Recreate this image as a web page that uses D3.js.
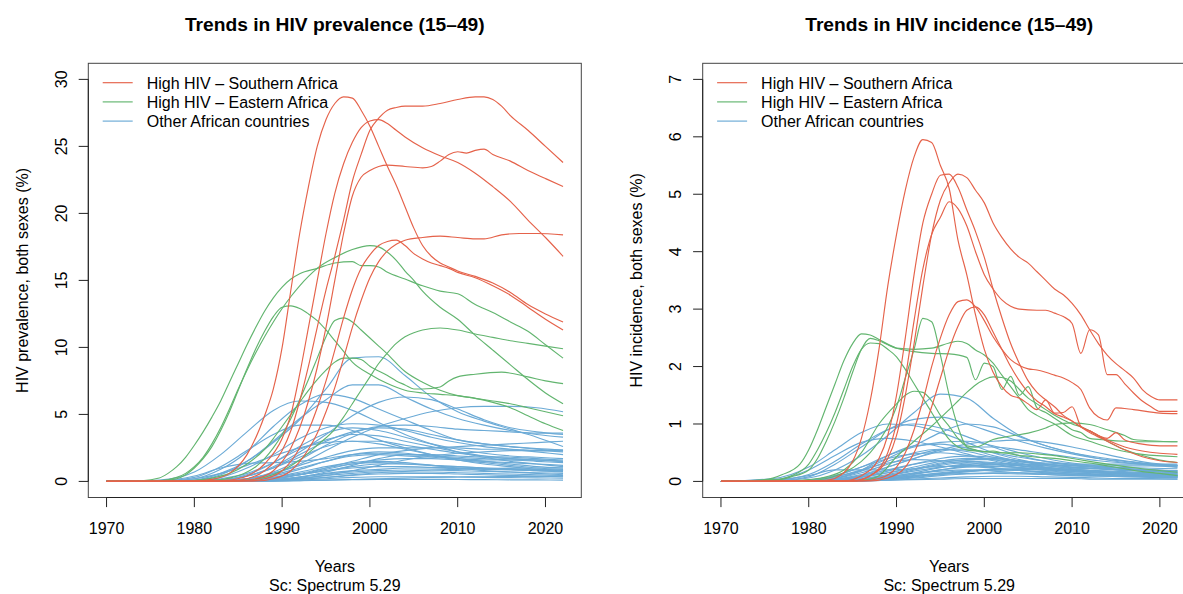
<!DOCTYPE html>
<html>
<head>
<meta charset="utf-8">
<script src="https://cdn.jsdelivr.net/npm/d3@7"></script>
<style>
  body { margin: 0; background: #fff; }
  svg text { font-family: "Liberation Sans", Arial, Helvetica, sans-serif; fill: #000; }
</style>
</head>
<body>
<svg id="chart" width="1183" height="594"></svg>
<script>
// ---- tick labels ----
const xTicks = [1970, 1980, 1990, 2000, 2010, 2020];
const prevTicks = [0, 5, 10, 15, 20, 25, 30];
const incTicks = [0, 1, 2, 3, 4, 5, 6, 7];

// ---- legend ----
const groupNames = ["High HIV \u2013 Southern Africa", "High HIV \u2013 Eastern Africa", "Other African countries"];

// ---- prevalence (%), high HIV Southern Africa: [year, value] ----
const prevSouthern = [
  [[1970,0],[1980,0.02],[1982,0.15],[1984,0.6],[1986,2.0],[1988,4.9],[1989,6.9],[1990,10.0],[1991,14.3],[1992,18.5],[1993,22.0],[1994,25.0],[1995,27.0],[1996,28.2],[1997,28.7],[1998,28.6],[1999,27.7],[2000,26.5],[2001,25.0],[2002,23.5],[2003,22.1],[2004,20.5],[2005,18.9],[2006,17.6],[2007,16.8],[2008,16.3],[2009,16.0],[2010,15.7],[2012,15.3],[2014,14.8],[2016,14.1],[2018,13.2],[2020,12.5],[2022,11.9]],
  [[1970,0],[1982,0.02],[1984,0.1],[1986,0.4],[1988,1.3],[1990,3.2],[1991,5.0],[1992,8.0],[1993,11.5],[1994,15.0],[1995,18.5],[1996,21.5],[1997,23.7],[1998,25.3],[1999,26.4],[2000,26.9],[2001,27.0],[2002,26.7],[2003,26.2],[2004,25.7],[2006,24.9],[2008,24.3],[2010,23.8],[2012,23.0],[2014,22.0],[2016,20.9],[2018,19.5],[2020,18.2],[2022,16.8]],
  [[1970,0],[1984,0.03],[1986,0.2],[1988,0.8],[1990,2.3],[1991,3.8],[1992,6.0],[1993,8.6],[1994,11.5],[1995,14.3],[1996,16.8],[1997,19.5],[1998,22.4],[1999,24.4],[2000,26.2],[2001,27.1],[2002,27.7],[2003,27.9],[2004,28.0],[2006,28.0],[2008,28.2],[2010,28.5],[2012,28.7],[2013,28.7],[2014,28.5],[2015,28.0],[2016,27.3],[2018,26.2],[2020,25.0],[2022,23.8]],
  [[1970,0],[1985,0.03],[1987,0.2],[1989,0.8],[1991,2.5],[1992,4.0],[1993,6.0],[1994,8.5],[1995,11.5],[1996,15.0],[1997,18.5],[1998,21.3],[1999,22.7],[2000,23.2],[2001,23.5],[2002,23.6],[2004,23.5],[2006,23.4],[2007,23.5],[2008,23.9],[2009,24.4],[2010,24.6],[2011,24.5],[2012,24.7],[2013,24.8],[2014,24.4],[2016,23.9],[2018,23.2],[2020,22.6],[2022,22.0]],
  [[1970,0],[1986,0.03],[1988,0.2],[1990,0.8],[1992,2.5],[1993,3.8],[1994,5.5],[1995,7.5],[1996,9.8],[1997,12.2],[1998,14.3],[1999,15.9],[2000,16.9],[2001,17.6],[2002,17.9],[2003,18.0],[2004,17.6],[2005,17.0],[2006,16.6],[2007,16.3],[2008,16.1],[2009,15.9],[2010,15.6],[2012,15.2],[2014,14.6],[2016,13.9],[2018,13.0],[2020,12.1],[2022,11.3]],
  [[1970,0],[1987,0.03],[1989,0.2],[1991,0.8],[1993,2.4],[1994,3.6],[1995,5.2],[1996,7.0],[1997,9.2],[1998,11.5],[1999,13.5],[2000,15.2],[2001,16.4],[2002,17.2],[2003,17.7],[2004,18.0],[2006,18.2],[2008,18.3],[2010,18.2],[2012,18.1],[2013,18.1],[2015,18.4],[2017,18.5],[2019,18.5],[2022,18.4]]
];

// ---- prevalence (%), high HIV Eastern Africa ----
const prevEastern = [
  [[1970,0],[1974,0.05],[1976,0.25],[1977,0.6],[1978,1.1],[1979,1.8],[1980,2.7],[1981,3.7],[1982,4.8],[1983,6.0],[1984,7.4],[1985,8.8],[1986,10.2],[1987,11.5],[1988,12.7],[1989,13.7],[1990,14.5],[1991,15.1],[1992,15.5],[1994,15.9],[1996,16.3],[1998,16.4],[1999,16.1],[2000,16.1],[2001,16.0],[2002,15.6],[2004,15.1],[2006,14.6],[2008,14.2],[2010,14.0],[2012,13.2],[2014,12.6],[2016,11.9],[2018,11.2],[2020,10.2],[2022,9.2]],
  [[1970,0],[1976,0.05],[1978,0.3],[1979,0.6],[1980,1.1],[1981,1.8],[1982,2.8],[1983,4.0],[1984,5.4],[1985,6.9],[1986,8.3],[1987,9.6],[1988,10.8],[1989,11.9],[1990,12.9],[1991,13.8],[1992,14.6],[1993,15.3],[1994,15.9],[1996,16.7],[1998,17.3],[2000,17.6],[2001,17.5],[2002,17.1],[2003,16.5],[2004,15.7],[2005,15.0],[2006,14.2],[2008,13.0],[2010,12.1],[2012,10.9],[2014,9.8],[2016,8.7],[2018,7.6],[2020,6.6],[2022,5.8]],
  [[1970,0],[1976,0.03],[1978,0.2],[1979,0.5],[1980,1.0],[1981,1.7],[1982,2.6],[1983,3.8],[1984,5.2],[1985,6.8],[1986,8.4],[1987,9.9],[1988,11.2],[1989,12.3],[1990,13.0],[1991,13.1],[1992,12.9],[1993,12.5],[1994,12.0],[1995,11.3],[1996,10.5],[1997,9.7],[1998,8.9],[2000,8.0],[2002,7.3],[2004,6.8],[2006,6.6],[2008,6.5],[2010,6.4],[2012,6.2],[2014,6.0],[2016,5.8],[2018,5.5],[2020,5.2],[2022,4.9]],
  [[1970,0],[1980,0.02],[1982,0.08],[1984,0.25],[1986,0.7],[1987,1.1],[1988,1.7],[1989,2.5],[1990,3.5],[1991,4.7],[1992,6.1],[1993,7.6],[1994,9.2],[1995,10.8],[1996,12.0],[1997,12.2],[1998,11.9],[1999,11.3],[2000,10.7],[2001,10.1],[2002,9.5],[2004,8.2],[2006,7.4],[2008,6.8],[2010,6.4],[2012,6.2],[2014,5.9],[2016,5.5],[2018,4.9],[2020,4.3],[2022,3.8]],
  [[1970,0],[1978,0.02],[1980,0.08],[1982,0.25],[1984,0.6],[1986,1.3],[1988,2.4],[1989,3.2],[1990,4.1],[1991,5.0],[1992,5.9],[1993,6.8],[1994,7.6],[1995,8.3],[1996,8.9],[1997,9.2],[1998,9.2],[1999,9.1],[2000,8.6],[2002,7.9],[2003,7.5],[2004,7.2],[2005,6.9],[2006,6.9],[2008,7.05],[2009,7.5],[2010,7.8],[2012,8.0],[2015,8.15],[2018,7.8],[2020,7.5],[2022,7.3]],
  [[1970,0],[1984,0.02],[1986,0.1],[1988,0.3],[1990,0.8],[1992,1.6],[1994,2.7],[1996,3.9],[1997,4.8],[1998,5.8],[1999,6.8],[2000,7.8],[2001,8.8],[2002,9.6],[2003,10.3],[2004,10.8],[2005,11.1],[2006,11.3],[2008,11.45],[2010,11.3],[2012,11.0],[2014,10.75],[2016,10.5],[2018,10.3],[2020,10.1],[2022,9.9]]
];

// ---- other African countries: values on a shared year grid ----
const otherYears = [1970,1976,1980,1983,1986,1989,1992,1995,1998,2001,2004,2007,2010,2013,2016,2019,2022];

const prevOther = [
  [0,0.01,0.1,0.6,1.5,2.9,4.6,6.9,9.2,9.3,7.9,6.3,5.2,4.5,3.9,3.3,2.6],
  [0,0.01,0.08,0.5,1.5,3.0,4.7,6.1,7.2,7.2,6.3,5.4,4.7,4.2,3.8,3.5,3.3],
  [0,0.02,0.2,0.9,2.2,4.1,5.7,6.5,6.2,5.4,4.6,3.8,3.1,2.8,2.6,2.45,2.35],
  [0,0.1,0.7,2.0,3.7,5.3,6.0,5.9,5.3,4.4,3.5,2.8,2.2,1.8,1.5,1.3,1.1],
  [0,0.03,0.3,1.1,2.3,3.5,4.2,4.2,3.8,3.1,2.5,2.0,1.6,1.4,1.2,1.0,0.9],
  [0,0,0.02,0.1,0.4,1.1,2.2,3.5,4.9,5.9,6.3,6.1,5.4,4.6,4.0,3.7,3.5],
  [0,0,0,0.05,0.2,0.6,1.3,2.3,3.3,4.1,4.7,5.2,5.5,5.6,5.6,5.5,5.2],
  [0,0,0.05,0.3,1.0,2.0,3.2,4.0,4.3,4.2,3.8,3.3,2.9,2.6,2.4,2.2,2.0],
  [0,0,0.01,0.05,0.2,0.7,1.6,2.7,3.6,4.1,4.2,4.1,3.9,3.8,3.7,3.6,3.6],
  [0,0,0.02,0.1,0.4,1.0,2.0,3.0,3.7,4.0,3.9,3.5,3.1,2.8,2.6,2.4,2.3],
  [0,0,0.03,0.2,0.6,1.4,2.4,3.1,3.5,3.4,3.0,2.6,2.2,1.9,1.7,1.6,1.5],
  [0,0,0,0.01,0.05,0.2,0.5,1.0,1.5,2.0,2.3,2.5,2.6,2.7,2.8,2.9,3.0],
  [0,0,0.01,0.05,0.2,0.6,1.2,1.8,2.3,2.5,2.5,2.5,2.5,2.4,2.4,2.3,2.3],
  [0,0.05,0.4,1.0,1.35,1.4,1.5,1.7,2.0,2.1,2.0,1.9,1.8,1.7,1.6,1.6,1.5],
  [0,0,0.01,0.05,0.2,0.5,1.0,1.5,1.9,2.0,1.9,1.8,1.7,1.6,1.6,1.5,1.4],
  [0,0,0,0.02,0.1,0.3,0.7,1.1,1.4,1.6,1.7,1.7,1.6,1.5,1.4,1.3,1.2],
  [0,0,0,0.02,0.1,0.3,0.6,1.0,1.3,1.4,1.3,1.2,1.1,1.0,0.95,0.9,0.85],
  [0,0,0,0.01,0.05,0.2,0.5,0.8,1.1,1.3,1.3,1.2,1.1,1.0,0.9,0.8,0.75],
  [0,0,0,0.01,0.05,0.15,0.35,0.6,0.8,0.9,1.0,1.0,0.95,0.9,0.85,0.8,0.7],
  [0,0,0,0.01,0.03,0.1,0.25,0.45,0.6,0.7,0.7,0.7,0.65,0.6,0.55,0.5,0.45],
  [0,0,0,0,0.02,0.07,0.15,0.3,0.45,0.55,0.6,0.6,0.55,0.5,0.45,0.4,0.35],
  [0,0,0,0,0.01,0.04,0.1,0.2,0.3,0.35,0.35,0.35,0.33,0.3,0.28,0.26,0.25],
  [0,0,0,0,0.01,0.02,0.05,0.1,0.13,0.15,0.15,0.15,0.14,0.13,0.12,0.11,0.1],
  [0,0,0,0.01,0.1,0.4,0.9,1.5,2.0,2.2,2.1,1.9,1.7,1.5,1.3,1.1,1.0],
  [0,0,0.01,0.1,0.4,1.0,1.8,2.6,3.0,3.0,2.7,2.4,2.1,1.9,1.8,1.7,1.6],
  [0,0,0,0,0.03,0.1,0.3,0.7,1.2,1.7,2.0,2.0,1.9,1.8,1.7,1.6,1.5],
  [0,0,0,0.02,0.08,0.25,0.5,0.8,1.0,1.1,1.1,1.05,1.0,0.95,0.9,0.85,0.8],
  [0,0,0,0.01,0.05,0.2,0.5,0.9,1.3,1.5,1.4,1.2,1.0,0.8,0.7,0.6,0.5],
  [0,0.02,0.2,0.6,1.2,1.9,2.5,2.9,3.0,2.8,2.4,2.0,1.6,1.3,1.1,0.9,0.8],
  [0,0,0,0,0.02,0.08,0.2,0.45,0.8,1.2,1.6,1.9,2.1,2.2,2.3,2.3,2.2],
  [0,0,0,0,0.01,0.05,0.15,0.3,0.5,0.65,0.75,0.85,0.9,0.95,1.0,1.0,1.0],
  [0,0,0.01,0.1,0.5,1.4,2.6,3.6,4.0,3.8,3.3,2.8,2.4,2.1,1.9,1.8,1.7],
  [0,0,0,0,0.01,0.03,0.06,0.1,0.14,0.2,0.25,0.3,0.33,0.35,0.37,0.38,0.4],
  [0,0,0,0.01,0.04,0.12,0.3,0.55,0.7,0.8,0.85,0.85,0.8,0.75,0.7,0.65,0.6]
];

// ---- incidence (%), high HIV Southern Africa ----
const incSouthern = [
  [[1970,0],[1978,0.01],[1982,0.02],[1984,0.15],[1985,0.35],[1986,0.75],[1987,1.4],[1988,2.3],[1989,3.4],[1990,4.3],[1991,5.07],[1992,5.65],[1993,5.95],[1994,5.9],[1995,5.5],[1996,5.1],[1997,4.2],[1998,3.6],[1999,2.9],[2000,2.3],[2001,1.9],[2002,1.65],[2003,1.5],[2004,1.45],[2005,1.35],[2006,1.25],[2007,1.42],[2008,1.19],[2009,1.2],[2010,1.3],[2011,0.96],[2012,0.88],[2014,0.72],[2016,0.6],[2018,0.53],[2020,0.49],[2022,0.47]],
  [[1970,0],[1984,0.01],[1986,0.1],[1988,0.4],[1989,0.8],[1990,1.5],[1991,2.5],[1992,3.6],[1993,4.5],[1994,5.0],[1995,5.33],[1996,5.35],[1997,5.12],[1998,4.73],[1999,4.35],[2000,3.9],[2001,3.35],[2002,2.85],[2003,2.4],[2004,2.05],[2005,1.75],[2006,1.55],[2007,1.42],[2008,1.3],[2009,1.15],[2010,1.05],[2012,0.85],[2014,0.7],[2016,0.55],[2018,0.43],[2020,0.36],[2022,0.33]],
  [[1970,0],[1985,0.01],[1987,0.1],[1989,0.4],[1990,0.8],[1991,1.5],[1992,2.4],[1993,3.4],[1994,4.3],[1995,4.9],[1996,5.2],[1997,5.35],[1998,5.29],[1999,5.07],[2000,4.85],[2001,4.5],[2002,4.25],[2003,4.05],[2004,3.9],[2005,3.8],[2006,3.65],[2007,3.5],[2008,3.35],[2009,3.25],[2010,3.1],[2011,2.9],[2012,2.64],[2013,2.4],[2014,2.2],[2015,2.05],[2016,1.93],[2017,1.8],[2018,1.6],[2019,1.48],[2020,1.42],[2022,1.42]],
  [[1970,0],[1985,0.01],[1987,0.1],[1989,0.5],[1990,1.0],[1991,1.8],[1992,2.8],[1993,3.7],[1994,4.3],[1995,4.6],[1996,4.87],[1997,4.75],[1998,4.45],[1999,4.0],[2000,3.6],[2001,3.35],[2002,3.16],[2003,3.05],[2004,3.0],[2006,2.98],[2007,2.98],[2008,2.93],[2009,2.87],[2010,2.75],[2011,2.23],[2012,2.64],[2013,2.55],[2014,1.86],[2015,1.86],[2016,1.7],[2017,1.54],[2018,1.4],[2019,1.3],[2020,1.22],[2022,1.22]],
  [[1970,0],[1986,0.01],[1988,0.05],[1990,0.25],[1991,0.5],[1992,0.9],[1993,1.4],[1994,2.0],[1995,2.5],[1996,2.9],[1997,3.13],[1998,3.16],[1999,3.04],[2000,2.8],[2001,2.52],[2002,2.3],[2003,2.12],[2004,2.02],[2005,1.96],[2006,1.94],[2007,1.9],[2008,1.85],[2009,1.8],[2010,1.72],[2011,1.6],[2012,1.28],[2013,1.12],[2014,1.07],[2015,1.28],[2017,1.25],[2020,1.19],[2022,1.18]],
  [[1970,0],[1987,0.01],[1989,0.06],[1991,0.25],[1992,0.5],[1993,0.85],[1994,1.3],[1995,1.8],[1996,2.3],[1997,2.7],[1998,2.98],[1999,3.04],[2000,2.9],[2001,2.6],[2002,2.3],[2003,2.0],[2004,1.75],[2005,1.55],[2006,1.4],[2007,1.3],[2008,1.18],[2009,1.12],[2010,1.05],[2011,0.95],[2012,0.88],[2013,0.8],[2014,0.75],[2015,0.85],[2016,0.72],[2018,0.65],[2020,0.62],[2022,0.62]]
];

// ---- incidence (%), high HIV Eastern Africa ----
const incEastern = [
  [[1970,0],[1975,0.03],[1977,0.12],[1979,0.3],[1980,0.55],[1981,0.9],[1982,1.3],[1983,1.7],[1984,2.1],[1985,2.4],[1986,2.57],[1987,2.55],[1988,2.47],[1990,2.32],[1992,2.26],[1994,2.23],[1996,2.22],[1998,2.16],[1999,1.77],[2000,2.06],[2001,2.0],[2002,1.6],[2003,1.83],[2004,1.5],[2005,1.65],[2006,1.28],[2007,1.2],[2008,1.1],[2009,1.0],[2010,0.9],[2011,0.85],[2012,0.75],[2014,0.72],[2016,0.7],[2018,0.69],[2022,0.69]],
  [[1970,0],[1976,0.02],[1978,0.08],[1980,0.2],[1981,0.4],[1982,0.7],[1983,1.05],[1984,1.45],[1985,1.9],[1986,2.3],[1987,2.49],[1988,2.45],[1989,2.38],[1990,2.32],[1992,2.3],[1994,2.32],[1996,2.41],[1997,2.44],[1998,2.4],[1999,2.29],[2000,2.2],[2001,2.06],[2002,1.85],[2003,1.65],[2004,1.45],[2005,1.25],[2006,1.15],[2008,1.0],[2010,0.8],[2012,0.7],[2014,0.6],[2016,0.52],[2018,0.47],[2022,0.43]],
  [[1970,0],[1976,0.03],[1978,0.1],[1980,0.3],[1981,0.55],[1982,0.85],[1983,1.2],[1984,1.6],[1985,2.0],[1986,2.3],[1987,2.41],[1988,2.4],[1989,2.3],[1990,2.17],[1991,1.95],[1992,1.7],[1993,1.45],[1994,1.2],[1995,0.95],[1996,0.73],[1997,0.6],[1998,0.55],[2000,0.52],[2002,0.5],[2004,0.5],[2006,0.48],[2008,0.45],[2010,0.4],[2014,0.3],[2018,0.22],[2022,0.16]],
  [[1970,0],[1980,0.01],[1982,0.05],[1984,0.15],[1986,0.35],[1987,0.5],[1988,0.7],[1989,0.95],[1990,1.3],[1991,1.8],[1992,2.3],[1993,2.84],[1994,2.78],[1995,2.2],[1996,1.5],[1997,0.95],[1998,0.6],[1999,0.55],[2000,0.52],[2001,0.53],[2002,0.5],[2003,0.48],[2004,0.45],[2005,0.44],[2006,0.42],[2008,0.4],[2010,0.36],[2012,0.32],[2014,0.27],[2016,0.22],[2018,0.17],[2020,0.14],[2022,0.1]],
  [[1970,0],[1978,0.01],[1980,0.03],[1982,0.08],[1984,0.2],[1986,0.5],[1988,1.0],[1990,1.35],[1991,1.5],[1992,1.57],[1993,1.55],[1994,1.4],[1995,1.15],[1996,0.96],[1997,0.75],[1998,0.62],[1999,0.6],[2001,0.73],[2003,0.79],[2005,0.84],[2007,0.93],[2008,0.99],[2010,1.02],[2012,0.99],[2014,0.9],[2016,0.8],[2017,0.73],[2020,0.7],[2022,0.69]],
  [[1970,0],[1984,0.01],[1986,0.02],[1987,0.04],[1988,0.1],[1990,0.43],[1992,0.7],[1994,0.96],[1996,1.25],[1997,1.4],[1998,1.55],[1999,1.68],[2000,1.77],[2001,1.82],[2002,1.81],[2003,1.75],[2004,1.6],[2005,1.45],[2006,1.35],[2007,1.25],[2008,1.15],[2009,1.07],[2010,1.0],[2011,0.95],[2012,0.88],[2014,0.7],[2016,0.55],[2018,0.45],[2020,0.37],[2022,0.33]]
];

// ---- incidence (%), other African countries, on otherYears ----
const incOther = [
  [0,0.01,0.06,0.2,0.45,0.8,1.2,1.52,1.45,1.1,0.8,0.62,0.5,0.42,0.36,0.3,0.25],
  [0,0.01,0.08,0.3,0.6,0.9,1.08,1.12,1.0,0.85,0.7,0.58,0.48,0.4,0.35,0.3,0.27],
  [0,0.05,0.25,0.55,0.85,1.0,0.97,0.85,0.68,0.5,0.38,0.3,0.25,0.22,0.2,0.18,0.16],
  [0,0.02,0.12,0.35,0.65,0.9,1.0,0.93,0.78,0.6,0.45,0.35,0.28,0.24,0.2,0.18,0.15],
  [0,0,0.02,0.08,0.2,0.4,0.62,0.85,1.0,0.95,0.78,0.62,0.5,0.4,0.33,0.28,0.25],
  [0,0.03,0.2,0.45,0.68,0.75,0.7,0.6,0.48,0.36,0.27,0.22,0.18,0.15,0.13,0.11,0.1],
  [0,0,0,0.02,0.1,0.25,0.4,0.55,0.65,0.7,0.72,0.68,0.6,0.5,0.4,0.32,0.28],
  [0,0,0.02,0.1,0.25,0.45,0.6,0.68,0.7,0.62,0.5,0.4,0.32,0.27,0.23,0.2,0.18],
  [0,0,0.01,0.04,0.12,0.25,0.4,0.52,0.6,0.6,0.55,0.48,0.42,0.36,0.32,0.3,0.28],
  [0,0,0.01,0.05,0.15,0.3,0.45,0.55,0.55,0.5,0.42,0.35,0.3,0.26,0.22,0.2,0.18],
  [0,0,0.02,0.1,0.25,0.4,0.48,0.5,0.45,0.38,0.3,0.24,0.2,0.17,0.15,0.13,0.12],
  [0,0.02,0.1,0.2,0.2,0.2,0.22,0.28,0.33,0.3,0.27,0.24,0.21,0.19,0.17,0.15,0.14],
  [0,0,0,0.02,0.08,0.18,0.3,0.4,0.44,0.42,0.36,0.3,0.25,0.22,0.19,0.17,0.15],
  [0,0,0,0.01,0.05,0.12,0.22,0.32,0.38,0.38,0.34,0.3,0.27,0.25,0.24,0.23,0.22],
  [0,0,0,0.01,0.03,0.08,0.15,0.24,0.3,0.32,0.3,0.27,0.24,0.22,0.2,0.19,0.18],
  [0,0,0,0.01,0.03,0.07,0.13,0.2,0.25,0.26,0.24,0.21,0.18,0.15,0.13,0.11,0.1],
  [0,0,0,0,0.02,0.05,0.1,0.15,0.19,0.2,0.19,0.17,0.15,0.13,0.11,0.1,0.09],
  [0,0,0,0,0.01,0.03,0.06,0.1,0.13,0.14,0.13,0.12,0.11,0.1,0.09,0.08,0.07],
  [0,0,0,0,0.01,0.02,0.04,0.06,0.08,0.09,0.09,0.08,0.07,0.06,0.05,0.05,0.04],
  [0,0,0,0.01,0.04,0.1,0.2,0.3,0.35,0.33,0.28,0.23,0.19,0.16,0.13,0.11,0.1],
  [0,0,0.01,0.06,0.18,0.35,0.5,0.56,0.52,0.42,0.32,0.25,0.2,0.16,0.14,0.12,0.1],
  [0,0,0,0,0.02,0.06,0.12,0.2,0.27,0.3,0.3,0.29,0.28,0.27,0.27,0.27,0.27],
  [0,0,0,0,0.01,0.04,0.08,0.13,0.17,0.2,0.22,0.23,0.23,0.22,0.21,0.2,0.19],
  [0,0,0.01,0.05,0.2,0.45,0.62,0.65,0.58,0.45,0.35,0.28,0.22,0.18,0.15,0.13,0.12],
  [0,0,0,0.02,0.07,0.15,0.25,0.35,0.4,0.4,0.36,0.32,0.3,0.3,0.3,0.3,0.3],
  [0,0,0,0,0.01,0.02,0.03,0.04,0.05,0.05,0.05,0.05,0.05,0.04,0.04,0.04,0.04],
  [0,0,0,0.01,0.03,0.08,0.14,0.18,0.2,0.18,0.15,0.12,0.1,0.09,0.08,0.07,0.06],
  [0,0,0.01,0.04,0.1,0.2,0.3,0.36,0.36,0.3,0.24,0.19,0.15,0.12,0.1,0.09,0.08],
  [0,0,0,0.01,0.04,0.1,0.18,0.25,0.28,0.27,0.24,0.2,0.17,0.15,0.13,0.12,0.11],
  [0,0,0,0,0.02,0.05,0.09,0.12,0.14,0.15,0.15,0.14,0.13,0.12,0.11,0.1,0.09],
  [0,0,0.02,0.08,0.2,0.32,0.38,0.36,0.3,0.24,0.19,0.15,0.12,0.1,0.09,0.08,0.07],
  [0,0,0,0.01,0.03,0.06,0.1,0.14,0.18,0.21,0.22,0.21,0.19,0.17,0.15,0.14,0.13],
  [0,0,0,0,0.01,0.03,0.07,0.12,0.17,0.2,0.21,0.2,0.18,0.16,0.15,0.14,0.13],
  [0,0,0.01,0.03,0.08,0.15,0.22,0.26,0.26,0.23,0.19,0.16,0.13,0.11,0.1,0.09,0.08]
];

// ---- drawing ----
const COLORS = { southern: "#E5624A", eastern: "#62B56F", other: "#6BAAD6" };
const svg = d3.select("#chart");
const PLOT_TOP = 63.3, PLOT_BOTTOM = 497.5, PLOT_W = 493;
const FONT = 16;

function drawPanel(opt) {
  const g = svg.append("g");
  const x = d3.scaleLinear().domain([1967.92, 2024.08]).range([opt.left, opt.left + PLOT_W]);
  const y = d3.scaleLinear().domain(opt.yDomain).range([PLOT_BOTTOM, PLOT_TOP]);
  const line = d3.line().x(d => x(d[0])).y(d => y(d[1])).curve(d3.curveMonotoneX);

  const lines = g.append("g").attr("fill", "none").attr("stroke-width", 1.15);
  opt.other.forEach(vals => {
    lines.append("path").attr("stroke", COLORS.other)
      .attr("d", line(otherYears.map((yr, i) => [yr, vals[i]])));
  });
  opt.eastern.forEach(s => {
    lines.append("path").attr("stroke", COLORS.eastern).attr("d", line(s));
  });
  opt.southern.forEach(s => {
    lines.append("path").attr("stroke", COLORS.southern).attr("d", line(s));
  });

  // plot box
  g.append("rect")
    .attr("x", opt.left).attr("y", PLOT_TOP)
    .attr("width", PLOT_W).attr("height", PLOT_BOTTOM - PLOT_TOP)
    .attr("fill", "none").attr("stroke", "#444").attr("stroke-width", 1);

  // x axis
  const ax = g.append("g").attr("stroke", "#222").attr("stroke-width", 1);
  ax.append("line")
    .attr("x1", x(xTicks[0])).attr("x2", x(xTicks[xTicks.length - 1]))
    .attr("y1", PLOT_BOTTOM).attr("y2", PLOT_BOTTOM);
  xTicks.forEach(t => {
    ax.append("line").attr("x1", x(t)).attr("x2", x(t))
      .attr("y1", PLOT_BOTTOM).attr("y2", PLOT_BOTTOM + 9.6);
    g.append("text").attr("x", x(t)).attr("y", 533.5)
      .attr("text-anchor", "middle").attr("font-size", FONT).text(t);
  });

  // y axis
  ax.append("line")
    .attr("x1", opt.left).attr("x2", opt.left)
    .attr("y1", y(opt.yTicks[0])).attr("y2", y(opt.yTicks[opt.yTicks.length - 1]));
  opt.yTicks.forEach(t => {
    ax.append("line").attr("x1", opt.left - 9.6).attr("x2", opt.left)
      .attr("y1", y(t)).attr("y2", y(t));
    g.append("text")
      .attr("transform", `translate(${opt.left - 21.3},${y(t)}) rotate(-90)`)
      .attr("text-anchor", "middle").attr("font-size", FONT).text(t);
  });

  const cx = opt.left + PLOT_W / 2;
  g.append("text").attr("x", cx).attr("y", 30.7)
    .attr("text-anchor", "middle").attr("font-size", 19.2).attr("font-weight", "bold")
    .text(opt.title);
  g.append("text").attr("x", cx).attr("y", 572)
    .attr("text-anchor", "middle").attr("font-size", FONT).text("Years");
  g.append("text").attr("x", cx).attr("y", 591)
    .attr("text-anchor", "middle").attr("font-size", FONT).text("Sc: Spectrum 5.29");
  g.append("text")
    .attr("transform", `translate(${opt.left - 60.7},${(PLOT_TOP + PLOT_BOTTOM) / 2}) rotate(-90)`)
    .attr("text-anchor", "middle").attr("font-size", FONT).text(opt.yLabel);

  // legend
  const legColors = [COLORS.southern, COLORS.eastern, COLORS.other];
  groupNames.forEach((name, i) => {
    const ly = 82.7 + i * 19.2;
    g.append("line").attr("x1", opt.left + 14.4).attr("x2", opt.left + 44.4)
      .attr("y1", ly).attr("y2", ly).attr("stroke", legColors[i]).attr("stroke-width", 1.15);
    g.append("text").attr("x", opt.left + 58.4).attr("y", ly + 6.3)
      .attr("font-size", FONT).text(name);
  });
}

drawPanel({
  left: 88.3, yDomain: [-1.2, 31.2], yTicks: prevTicks,
  title: "Trends in HIV prevalence (15\u201349)",
  yLabel: "HIV prevalence, both sexes (%)",
  southern: prevSouthern, eastern: prevEastern, other: prevOther
});
drawPanel({
  left: 702.7, yDomain: [-0.28, 7.28], yTicks: incTicks,
  title: "Trends in HIV incidence (15\u201349)",
  yLabel: "HIV incidence, both sexes (%)",
  southern: incSouthern, eastern: incEastern, other: incOther
});
</script>
</body>
</html>
